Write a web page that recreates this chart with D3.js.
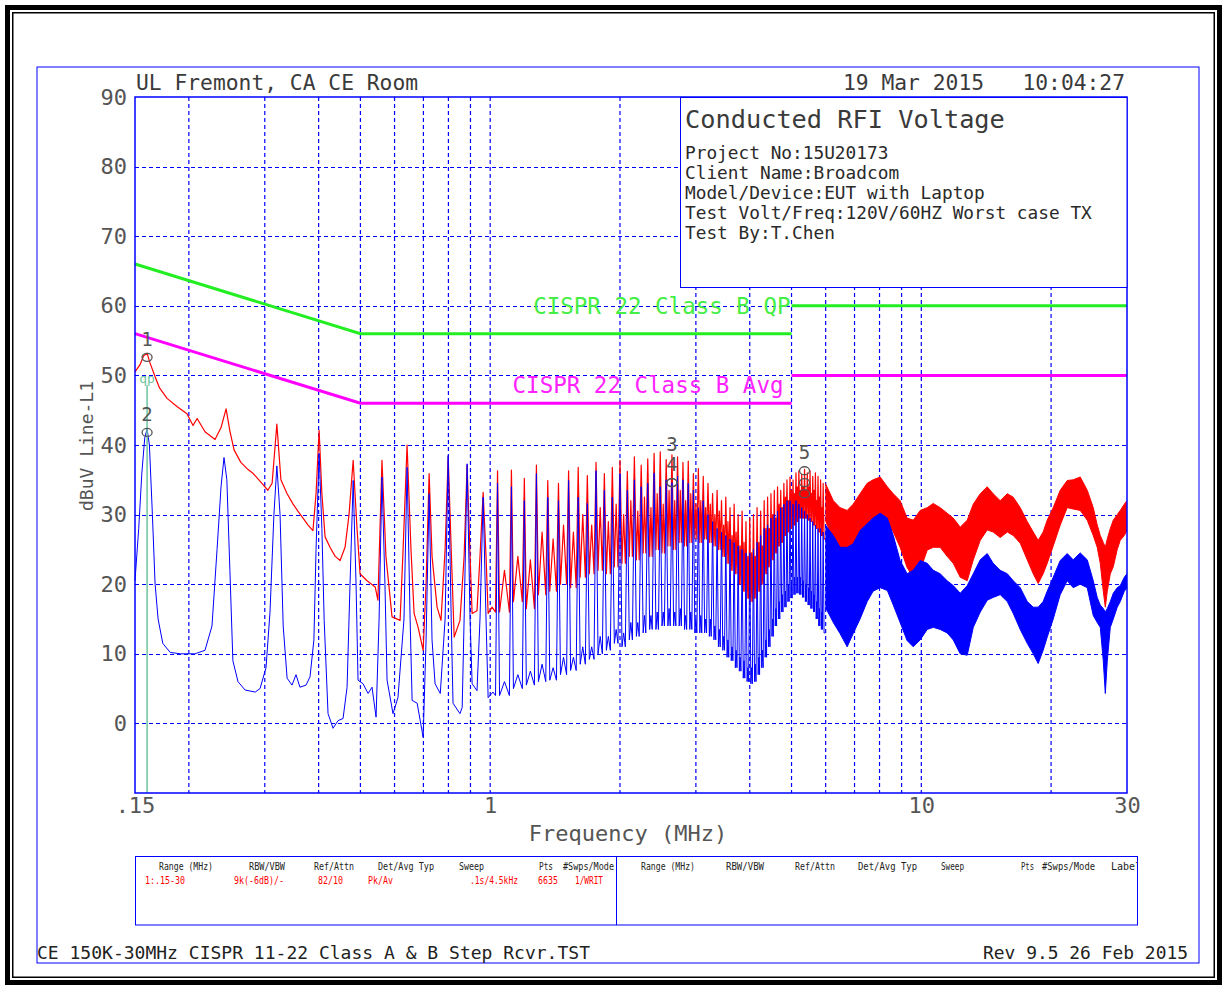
<!DOCTYPE html>
<html>
<head>
<meta charset="utf-8">
<script src="https://cdn.jsdelivr.net/npm/d3@7"></script>
<style>
  body { margin: 0; background: #fff; }
  svg { display: block; }
  text { font-family: "DejaVu Sans Mono", "Liberation Mono", monospace; }
</style>
</head>
<body>
<svg id="chart" width="1227" height="989"></svg>
<script>
// ---------- axis ticks ----------
const xTickMHz = [0.15, 1, 10, 30];
const xTickLabels = [".15", "1", "10", "30"];
const yTickDb = [0, 10, 20, 30, 40, 50, 60, 70, 80, 90];
const gridMHz = [0.2, 0.3, 0.4, 0.5, 0.6, 0.7, 0.8, 0.9, 1, 2, 3, 4, 5, 6, 7, 8, 9, 10, 20];
const gridDb = [0, 10, 20, 30, 40, 50, 60, 70, 80];

// ---------- CISPR 22 Class B limits (MHz, dBuV) ----------
const qpLimit = [[[0.15, 66], [0.5, 56], [5, 56]], [[5, 60], [30, 60]]];
const avgLimit = [[[0.15, 56], [0.5, 46], [5, 46]], [[5, 50], [30, 50]]];

// ---------- low band sweep, 0.15 - 1 MHz (MHz, dBuV) ----------
const peakLow = [
  [0.150,50.5],[0.154,51.5],[0.157,52.8],[0.160,53.2],[0.1625,51.8],[0.167,49.8],[0.171,48.2],[0.178,46.7],
  [0.188,45.5],[0.198,44.5],[0.2045,42.8],[0.209,43.8],[0.218,41.9],[0.230,40.8],[0.2375,42.5],[0.244,45.2],
  [0.249,42.0],[0.2546,39.3],[0.264,37.5],[0.273,36.6],[0.282,35.9],[0.2955,34.5],[0.305,33.5],[0.312,34.5],
  [0.320,43.0],[0.327,35.0],[0.338,33.0],[0.349,31.5],[0.358,30.5],[0.368,29.5],[0.378,28.5],[0.388,27.7],
  [0.3945,33.0],[0.401,42.1],[0.407,33.0],[0.414,26.8],[0.425,25.3],[0.437,24.0],[0.4485,23.4],[0.4606,25.3],
  [0.4705,30.0],[0.481,37.8],[0.491,28.0],[0.499,21.5],[0.518,20.5],[0.541,19.6],[0.549,17.7],[0.561,37.8],
  [0.573,24.0],[0.592,15.3],[0.618,14.8],[0.628,25.0],[0.6415,40.0],[0.655,25.0],[0.666,15.8],[0.6805,13.8],
  [0.699,10.5],[0.710,20.0],[0.7217,35.9],[0.733,24.0],[0.753,16.7],[0.769,14.8],[0.786,25.0],[0.799,38.3],
  [0.812,25.0],[0.825,12.4],[0.851,14.8],[0.870,24.0],[0.884,37.1],[0.898,24.0],[0.908,15.8],[0.932,16.2],
  [0.947,24.0],[0.963,33.2],[0.978,24.0],[0.989,15.8],[1.010,16.7]
];
const avgLow = [
  [0.150,20.5],[0.153,28.0],[0.1556,36.0],[0.158,41.0],[0.160,42.3],[0.162,40.0],[0.1646,30.0],[0.167,20.0],
  [0.1697,15.0],[0.174,11.5],[0.181,10.2],[0.191,10.0],[0.2067,10.0],[0.218,10.5],[0.2263,14.0],[0.2325,25.0],
  [0.2375,34.0],[0.2413,38.2],[0.245,35.0],[0.249,22.0],[0.253,9.0],[0.260,6.0],[0.270,4.8],[0.285,4.5],
  [0.2925,5.0],[0.302,8.0],[0.3085,16.0],[0.315,30.0],[0.320,37.0],[0.3255,30.0],[0.331,14.0],[0.338,6.5],
  [0.347,5.5],[0.3545,7.0],[0.362,5.2],[0.374,5.5],[0.382,6.7],[0.390,12.0],[0.3945,25.0],[0.401,38.8],
  [0.407,28.0],[0.412,14.8],[0.4206,1.4],[0.432,-0.7],[0.4437,0.4],[0.4557,0.7],[0.4656,5.2],[0.473,20.0],
  [0.481,34.9],[0.4885,20.0],[0.4937,6.2],[0.507,5.7],[0.521,4.3],[0.532,5.2],[0.5436,0.9],[0.5524,15.0],
  [0.561,35.4],[0.570,20.0],[0.5765,6.2],[0.595,1.4],[0.611,3.7],[0.631,15.0],[0.6415,36.8],[0.652,15.0],
  [0.659,3.3],[0.677,2.9],[0.699,-2.0],[0.710,12.0],[0.7217,33.0],[0.733,12.0],[0.745,5.7],[0.766,4.3],
  [0.786,15.0],[0.799,38.5],[0.812,15.0],[0.820,2.9],[0.851,1.4],[0.861,2.3],[0.870,15.0],[0.884,37.3],
  [0.898,15.0],[0.908,5.7],[0.932,4.7],[0.947,15.0],[0.963,32.5],[0.978,15.0],[0.989,3.7],[1.015,4.5]
];

// ---------- harmonic comb, 1 - 6 MHz ----------
const harmonicMHz = [
  1.04,1.12,1.20,1.28,1.36,1.44,1.52,1.60,1.68,1.76,
  1.84,1.92,2.00,2.08,2.16,2.24,2.32,2.40,2.48,2.56,
  2.64,2.72,2.80,2.88,2.96,3.04,3.12,3.20,3.28,3.36,
  3.44,3.52,3.60,3.68,3.76,3.84,3.92,4.00,4.08,4.16,
  4.24,4.32,4.40,4.48,4.56,4.64,4.72,4.80,4.88,4.96,
  5.04,5.12,5.20,5.28,5.36,5.44,5.52,5.60,5.68,5.76,
  5.84,5.92
];
const harmonicPeak = [
  36.3,36.4,35.2,37.1,34.9,34.5,36.3,36.8,35.6,37.5,
  35.9,36.8,37.8,36.2,38.3,37.1,38.0,38.8,39.0,37.9,
  38.6,38.3,37.5,37.7,35.9,36.6,35.5,34.5,33.0,33.5,
  32.0,32.5,31.0,31.5,30.0,30.5,29.0,29.5,30.0,31.0,
  30.5,32.0,32.5,33.0,33.5,34.0,33.5,34.5,35.0,35.4,
  35.0,36.0,36.3,35.8,36.5,36.0,36.3,35.5,36.0,35.5,
  35.0,34.5
];
// peak detector noise between harmonics: lowest and highest level
const harmonicPeakFloor = [
  16.0,17.5,16.5,18.5,19.0,20.0,19.5,21.0,21.5,22.0,
  21.5,22.5,23.0,24.0,23.5,24.5,24.0,25.0,24.5,25.5,
  25.0,26.0,25.5,26.0,26.5,26.0,26.5,26.0,25.5,25.0,
  24.0,23.0,22.0,21.5,20.0,19.0,18.0,17.5,18.0,19.0,
  20.0,21.5,22.5,23.5,24.5,25.5,26.0,27.0,27.5,28.0,
  28.5,29.0,29.5,29.5,29.5,29.2,29.0,28.5,28.0,27.5,
  27.0,26.5
];
const harmonicPeakNoise = [
  22.0,24.0,23.5,27.5,26.5,28.5,27.5,30.0,28.5,31.0,
  29.0,31.5,30.0,32.0,30.5,32.5,31.0,33.0,31.5,33.5,
  32.0,33.5,32.0,33.0,31.5,32.0,31.0,31.5,30.0,30.5,
  28.5,29.0,27.0,27.5,25.5,26.0,24.0,24.5,24.0,26.0,
  25.5,28.0,28.0,30.0,29.5,31.5,31.0,32.5,32.0,33.5,
  33.0,34.0,33.5,34.0,33.5,34.0,33.0,33.5,32.0,32.5,
  31.0,30.5
];
const harmonicAvg = [
  34.5,34.0,32.0,35.9,32.5,32.0,34.9,32.5,31.6,36.3,
  33.5,32.5,35.9,33.5,35.0,34.0,34.5,36.0,34.0,35.0,
  34.6,35.5,35.0,34.5,33.5,31.0,32.0,30.0,29.0,28.0,
  27.5,27.0,26.5,26.0,25.5,25.0,24.5,24.5,25.0,26.0,
  27.0,28.0,28.5,29.5,30.0,30.5,31.0,31.5,32.0,32.0,
  31.5,32.0,31.5,31.0,30.5,30.0,29.5,29.0,28.5,28.0,
  28.0,27.5
];
const harmonicAvgFloor = [
  4.0,5.0,5.5,6.0,6.2,7.0,7.6,8.5,9.2,10.0,
  10.5,11.5,11.0,12.0,12.5,13.0,13.5,13.5,14.0,14.0,
  14.0,14.0,13.5,13.5,13.0,13.0,13.0,12.5,12.0,11.0,
  10.5,9.5,9.0,8.0,7.5,6.5,6.0,5.7,6.0,7.0,
  8.0,9.5,11.0,12.5,14.0,15.0,16.0,16.7,17.5,18.0,
  18.5,18.7,18.5,18.1,17.5,17.0,16.5,16.0,15.0,14.0,
  13.5,13.0
];
const harmonicAvgNoise = [
  6.0,7.0,7.5,8.5,8.0,9.5,9.5,11.0,11.0,12.5,
  12.5,13.5,13.0,14.5,14.5,15.5,15.5,16.0,16.0,16.5,
  16.0,16.5,15.5,16.0,15.0,15.5,15.0,15.0,14.0,13.5,
  12.5,12.0,11.0,10.5,9.5,9.0,8.0,8.0,8.5,9.5,
  10.5,12.0,13.5,15.0,16.5,17.5,18.5,19.0,20.0,20.5,
  21.0,21.0,21.0,20.5,20.0,19.5,19.0,18.5,17.5,16.5,
  16.0,15.5
];

// ---------- dense band, 6 - 30 MHz (envelope of sweep) ----------
const bandMHz = [
  5.99,6.25,6.48,6.73,6.95,7.21,7.49,7.73,8.03,8.34,8.61,8.93,9.27,9.58,9.94,10.32,10.66,11.06,11.48,11.86,
  12.31,12.78,13.20,13.70,14.22,14.68,15.24,15.83,16.34,16.96,17.61,18.18,18.67,19.17,19.59,20.23,21.00,21.80,22.51,23.37,
  24.26,25.05,25.59,26.01,26.43,26.72,27.00,27.44,27.88,28.48,28.94,29.57,30.0
];
const bandPeakHigh = [
  34.5,32.0,31.0,30.6,31.5,33.0,34.5,35.0,35.4,34.0,33.0,32.0,29.5,29.2,30.6,31.0,31.6,31.0,30.2,29.5,
  28.2,29.2,31.5,33.0,34.0,33.0,32.0,33.0,32.5,31.0,29.0,27.5,26.3,27.5,29.2,31.0,33.5,34.9,35.0,35.4,
  33.5,31.0,28.5,27.0,26.0,25.3,26.5,28.0,29.2,30.0,30.6,31.5,32.0
];
const bandPeakLow = [
  29.2,26.3,23.5,22.4,23.0,26.3,28.0,29.0,29.6,28.8,27.5,25.3,22.4,21.0,22.0,24.9,25.3,25.3,24.0,23.0,
  21.0,20.5,23.5,26.3,27.8,27.5,26.7,27.5,27.0,25.9,23.5,21.5,20.1,21.5,23.0,25.5,28.5,31.0,30.8,30.6,
  29.2,27.0,25.3,23.0,19.0,16.7,19.0,21.5,22.5,25.0,26.3,27.0,27.7
];
const bandAvgHigh = [
  28.5,27.0,25.3,25.3,25.8,27.7,28.7,29.5,30.2,29.5,27.0,23.4,21.5,22.0,23.4,23.0,22.0,21.5,20.5,19.8,
  18.7,19.8,21.5,23.5,24.4,23.0,22.0,21.5,20.5,19.5,17.5,16.7,16.7,17.5,19.0,21.0,23.4,24.4,23.5,24.5,
  23.5,20.5,18.1,17.0,16.5,16.0,16.5,17.5,18.7,19.5,19.8,21.0,21.5
];
const bandAvgLow = [
  16.7,14.5,12.9,11.0,12.9,15.0,17.5,19.0,19.5,19.1,17.0,14.5,11.9,11.0,12.0,13.5,13.8,13.5,13.0,12.0,
  10.0,9.8,13.8,16.0,17.7,18.1,18.5,17.5,15.8,13.5,11.5,10.0,8.6,10.5,12.4,15.0,18.5,20.5,19.5,20.0,
  19.5,15.5,14.5,13.8,9.0,4.3,9.0,13.8,15.0,16.7,17.5,19.0,19.5
];

// ---------- markers ----------
const markerNames = ["1", "2", "3", "4", "5"];
const markerMHz = [0.16, 0.16, 2.64, 2.64, 5.36];
const markerDb = [52.6, 41.8, 34.6, 34.6, 36.3];
const extraMarkMHz = [5.36, 5.36];
const extraMarkDb = [34.6, 33.0];

// ---------- header / info texts ----------
const siteText = "UL Fremont, CA CE Room";
const dateText = "19 Mar 2015";
const timeText = "10:04:27";
const infoTitle = "Conducted RFI Voltage";
const infoLines = [
  "Project No:15U20173",
  "Client Name:Broadcom",
  "Model/Device:EUT with Laptop",
  "Test Volt/Freq:120V/60HZ Worst case TX",
  "Test By:T.Chen"
];
const tableHeads = ["Range (MHz)", "RBW/VBW", "Ref/Attn", "Det/Avg Typ", "Sweep", "Pts", "#Swps/Mode"];
const tableValues = ["1:.15-30", "9k(-6dB)/-", "82/10", "Pk/Av", ".1s/4.5kHz", "6635", "1/WRIT"];
const tableHeads2 = ["Range (MHz)", "RBW/VBW", "Ref/Attn", "Det/Avg Typ", "Sweep", "Pts", "#Swps/Mode", "Label"];
const footerLeft = "CE 150K-30MHz CISPR 11-22 Class A & B Step Rcvr.TST";
const footerRight = "Rev 9.5 26 Feb 2015";

// ================= drawing =================
const W = 1227, H = 989;
const svg = d3.select("#chart");
const BLUE = "#0000ff", RED = "#ff0000", GRAY = "#555", INK = "#3a3a3a";

svg.append("rect").attr("width", W).attr("height", H).attr("fill", "#fff");

// page frames
svg.append("rect").attr("x", 7.5).attr("y", 7.5).attr("width", 1212).attr("height", 975)
  .attr("fill", "none").attr("stroke", "#000").attr("stroke-width", 5);
svg.append("rect").attr("x", 12.75).attr("y", 12.75).attr("width", 1201.5).attr("height", 964.5)
  .attr("fill", "none").attr("stroke", "#000").attr("stroke-width", 1.5);
svg.append("rect").attr("x", 37).attr("y", 67).attr("width", 1162).attr("height", 896)
  .attr("fill", "none").attr("stroke", BLUE).attr("stroke-width", 1);

const x = d3.scaleLog().domain([0.15, 30]).range([135, 1127]);
const y = d3.scaleLinear().domain([-10, 90]).range([793, 97]);

// grid
const grid = svg.append("g");
grid.selectAll("line.v").data(gridMHz).join("line").attr("class", "v")
  .attr("x1", d => x(d)).attr("x2", d => x(d))
  .attr("y1", y(90)).attr("y2", y(-10))
  .attr("stroke", BLUE).attr("stroke-width", 1.2).attr("stroke-dasharray", "4,3");
grid.selectAll("line.h").data(gridDb).join("line").attr("class", "h")
  .attr("x1", x(0.15)).attr("x2", x(30))
  .attr("y1", d => Math.round(y(d)) + 0.5).attr("y2", d => Math.round(y(d)) + 0.5)
  .attr("stroke", BLUE).attr("stroke-width", 1).attr("stroke-dasharray", "4,3");

// axes (labels only)
const yAxis = svg.append("g").attr("transform", `translate(${x(0.15)},0)`)
  .call(d3.axisLeft(y).tickValues(yTickDb).tickSize(0).tickPadding(8).tickFormat(d3.format("d")));
const xAxis = svg.append("g").attr("transform", `translate(0,${y(-10)})`)
  .call(d3.axisBottom(x).tickValues(xTickMHz).tickSize(0).tickPadding(4)
    .tickFormat((d, i) => xTickLabels[i]));
[yAxis, xAxis].forEach(g => {
  g.select(".domain").remove();
  g.selectAll("text").attr("fill", GRAY).style("font-size", "22px")
    .style("font-family", "'DejaVu Sans Mono', monospace");
});

svg.append("text").attr("x", 628).attr("y", 841).attr("text-anchor", "middle")
  .attr("fill", GRAY).style("font-size", "22px").text("Frequency (MHz)");
svg.append("text").attr("transform", "translate(93,446) rotate(-90)").attr("text-anchor", "middle")
  .attr("fill", GRAY).style("font-size", "18px").text("dBuV Line-L1");

// traces
const toPx = pts => pts.map(([f, v]) => [x(f), y(v)]);
// comb: rise to each harmonic peak, fall to the floor, one noise bump, back to the floor
function combPoints(peaks, floors, noise) {
  const pts = [];
  const n = harmonicMHz.length;
  harmonicMHz.forEach((f, i) => {
    const xi = x(f);
    const xp = i > 0 ? x(harmonicMHz[i - 1]) : xi - 10;
    const xn = i < n - 1 ? x(harmonicMHz[i + 1]) : xi + 3;
    const hl = Math.min(2, (xi - xp) * 0.3), hr = Math.min(2, (xn - xi) * 0.3);
    const prevFloor = i > 0 ? floors[i - 1] : floors[0];
    pts.push([xi - hl, y(prevFloor)], [xi, y(peaks[i])], [xi + hr, y(floors[i])]);
    if (i < n - 1) {
      const nl = Math.min(2, (xn - xi) * 0.3);
      pts.push([(xi + xn) / 2, y(noise[i])], [xn - nl, y(floors[i])]);
    }
  });
  return pts;
}
const line = d3.line();
const bandArea = (hi, lo) => d3.area()
  .x((d, i) => x(bandMHz[i])).y0((d, i) => y(lo[i])).y1((d, i) => y(hi[i]))(bandMHz);
const bandEdge = arr => d3.line().x((d, i) => x(bandMHz[i])).y((d, i) => y(arr[i]))(bandMHz);

const traces = svg.append("g").attr("fill", "none");
function drawTrace(color, width, low, peaks, floors, noise, hi, lo) {
  const lastComb = harmonicMHz.length - 1;
  const pts = toPx(low).concat(combPoints(peaks, floors, noise));
  pts.push([x(bandMHz[0]), y(floors[lastComb])]);
  traces.append("path").attr("d", line(pts)).attr("stroke", color).attr("stroke-width", width)
    .attr("stroke-linejoin", "round");
  traces.append("path").attr("d", bandArea(hi, lo)).attr("fill", color).attr("stroke", "none");
  traces.append("path").attr("d", bandEdge(hi)).attr("stroke", color);
  traces.append("path").attr("d", bandEdge(lo)).attr("stroke", color);
}
drawTrace(RED, 1.2, peakLow, harmonicPeak, harmonicPeakFloor, harmonicPeakNoise, bandPeakHigh, bandPeakLow);
drawTrace(BLUE, 1, avgLow, harmonicAvg, harmonicAvgFloor, harmonicAvgNoise, bandAvgHigh, bandAvgLow);

// limit lines
const limitLine = d3.line().x(d => x(d[0])).y(d => y(d[1]));
const limits = svg.append("g").attr("fill", "none").attr("stroke-width", 3);
qpLimit.forEach(seg => limits.append("path").attr("d", limitLine(seg)).attr("stroke", "#22ee22"));
avgLimit.forEach(seg => limits.append("path").attr("d", limitLine(seg)).attr("stroke", "#ff00ff"));
svg.append("text").attr("x", x(5) - 1).attr("y", y(60)).attr("dy", "0.35em").attr("text-anchor", "end")
  .attr("fill", "#44ee44").style("font-size", "22.5px").text("CISPR 22 Class B QP");
svg.append("text").attr("x", x(5) - 8).attr("y", y(50) + 10).attr("dy", "0.35em").attr("text-anchor", "end")
  .attr("fill", "#ff22ff").style("font-size", "22.5px").text("CISPR 22 Class B Avg");

// markers
svg.append("line").attr("x1", x(markerMHz[0])).attr("x2", x(markerMHz[0]))
  .attr("y1", y(-10)).attr("y2", y(markerDb[0]) + 28)
  .attr("stroke", "#6cc4a0").attr("stroke-width", 1.5);
const mk = svg.append("g").attr("fill", GRAY).style("font-size", "19px").attr("text-anchor", "middle");
const marks = svg.append("g").attr("fill", "none").attr("stroke", GRAY).attr("stroke-width", 1.3);
const markSpots = markerMHz.map((f, i) => [f, markerDb[i]])
  .concat(extraMarkMHz.map((f, i) => [f, extraMarkDb[i]]));
markSpots.forEach(([f, v]) => {
  marks.append("ellipse").attr("cx", x(f)).attr("cy", y(v)).attr("rx", 5).attr("ry", 4);
});
const stacked = {};
for (let i = markerNames.length - 1; i >= 0; i--) {
  const key = markerMHz[i] + "_" + markerDb[i];
  stacked[key] = (stacked[key] || 0) + 1;
  mk.append("text").attr("x", x(markerMHz[i])).attr("y", y(markerDb[i]) - 20 * stacked[key] + 2)
    .attr("dy", "0.35em").text(markerNames[i]);
}
svg.append("text").attr("x", x(markerMHz[0])).attr("y", y(markerDb[0]) + 22).attr("dy", "0.3em")
  .attr("text-anchor", "middle").attr("fill", "#6cc4a0").style("font-size", "13px").text("qp");

// plot border
svg.append("rect").attr("x", x(0.15)).attr("y", y(90)).attr("width", x(30) - x(0.15))
  .attr("height", y(-10) - y(90)).attr("fill", "none").attr("stroke", BLUE).attr("stroke-width", 1.5);

// header
svg.append("text").attr("x", 136).attr("y", 90).attr("fill", INK).style("font-size", "21.3px").text(siteText);
svg.append("text").attr("x", 843).attr("y", 90).attr("fill", INK).style("font-size", "21.3px").text(dateText);
svg.append("text").attr("x", 1125).attr("y", 90).attr("text-anchor", "end").attr("fill", INK)
  .style("font-size", "21.3px").text(timeText);

// info box
svg.append("rect").attr("x", 680.5).attr("y", 97.5).attr("width", 446.5).attr("height", 190)
  .attr("fill", "#fff").attr("stroke", BLUE).attr("stroke-width", 1);
svg.append("text").attr("x", 685).attr("y", 128).attr("fill", INK).style("font-size", "25.3px").text(infoTitle);
svg.selectAll("text.info").data(infoLines).join("text").attr("class", "info")
  .attr("x", 685).attr("y", (d, i) => 159 + 20 * i).attr("fill", "#2a2a2a").style("font-size", "17.8px").text(d => d);

// settings table
svg.append("rect").attr("x", 135.5).attr("y", 856.5).attr("width", 1002).attr("height", 68.5)
  .attr("fill", "none").attr("stroke", BLUE).attr("stroke-width", 1);
svg.append("line").attr("x1", 616.5).attr("x2", 616.5).attr("y1", 856.5).attr("y2", 925)
  .attr("stroke", BLUE).attr("stroke-width", 1);
const headX = [159, 249, 314, 378, 459, 539, 563];
const headLen = [54, 36, 40, 56, 25, 14, 51];
const valX = [145, 234, 318, 368, 470, 538, 575];
const valLen = [40, 50, 25, 25, 48, 20, 28];
const head2X = [641, 726, 795, 858, 941, 1021, 1042, 1111];
const head2Len = [54, 38, 40, 59, 23, 13, 53, 30];
const tbl = svg.append("g").style("font-family", "'DejaVu Sans Condensed','DejaVu Sans',sans-serif").style("font-size", "11px");
tableHeads.forEach((t, i) => tbl.append("text").attr("x", headX[i]).attr("y", 870).attr("fill", "#222")
  .attr("textLength", headLen[i]).attr("lengthAdjust", "spacingAndGlyphs").text(t));
tableValues.forEach((t, i) => tbl.append("text").attr("x", valX[i]).attr("y", 884).attr("fill", RED)
  .attr("textLength", valLen[i]).attr("lengthAdjust", "spacingAndGlyphs").text(t));
svg.append("clipPath").attr("id", "tblclip").append("rect").attr("x", 617).attr("y", 857).attr("width", 520).attr("height", 67);
const tbl2 = tbl.append("g").attr("clip-path", "url(#tblclip)");
tableHeads2.forEach((t, i) => tbl2.append("text").attr("x", head2X[i]).attr("y", 870).attr("fill", "#222")
  .attr("textLength", head2Len[i]).attr("lengthAdjust", "spacingAndGlyphs").text(t));

// footer
svg.append("text").attr("x", 37).attr("y", 959).attr("fill", "#222").style("font-size", "17px")
  .attr("textLength", 553).attr("lengthAdjust", "spacingAndGlyphs").text(footerLeft);
svg.append("text").attr("x", 983).attr("y", 959).attr("fill", "#222").style("font-size", "17px")
  .attr("textLength", 205).attr("lengthAdjust", "spacingAndGlyphs").text(footerRight);
</script>
</body>
</html>
